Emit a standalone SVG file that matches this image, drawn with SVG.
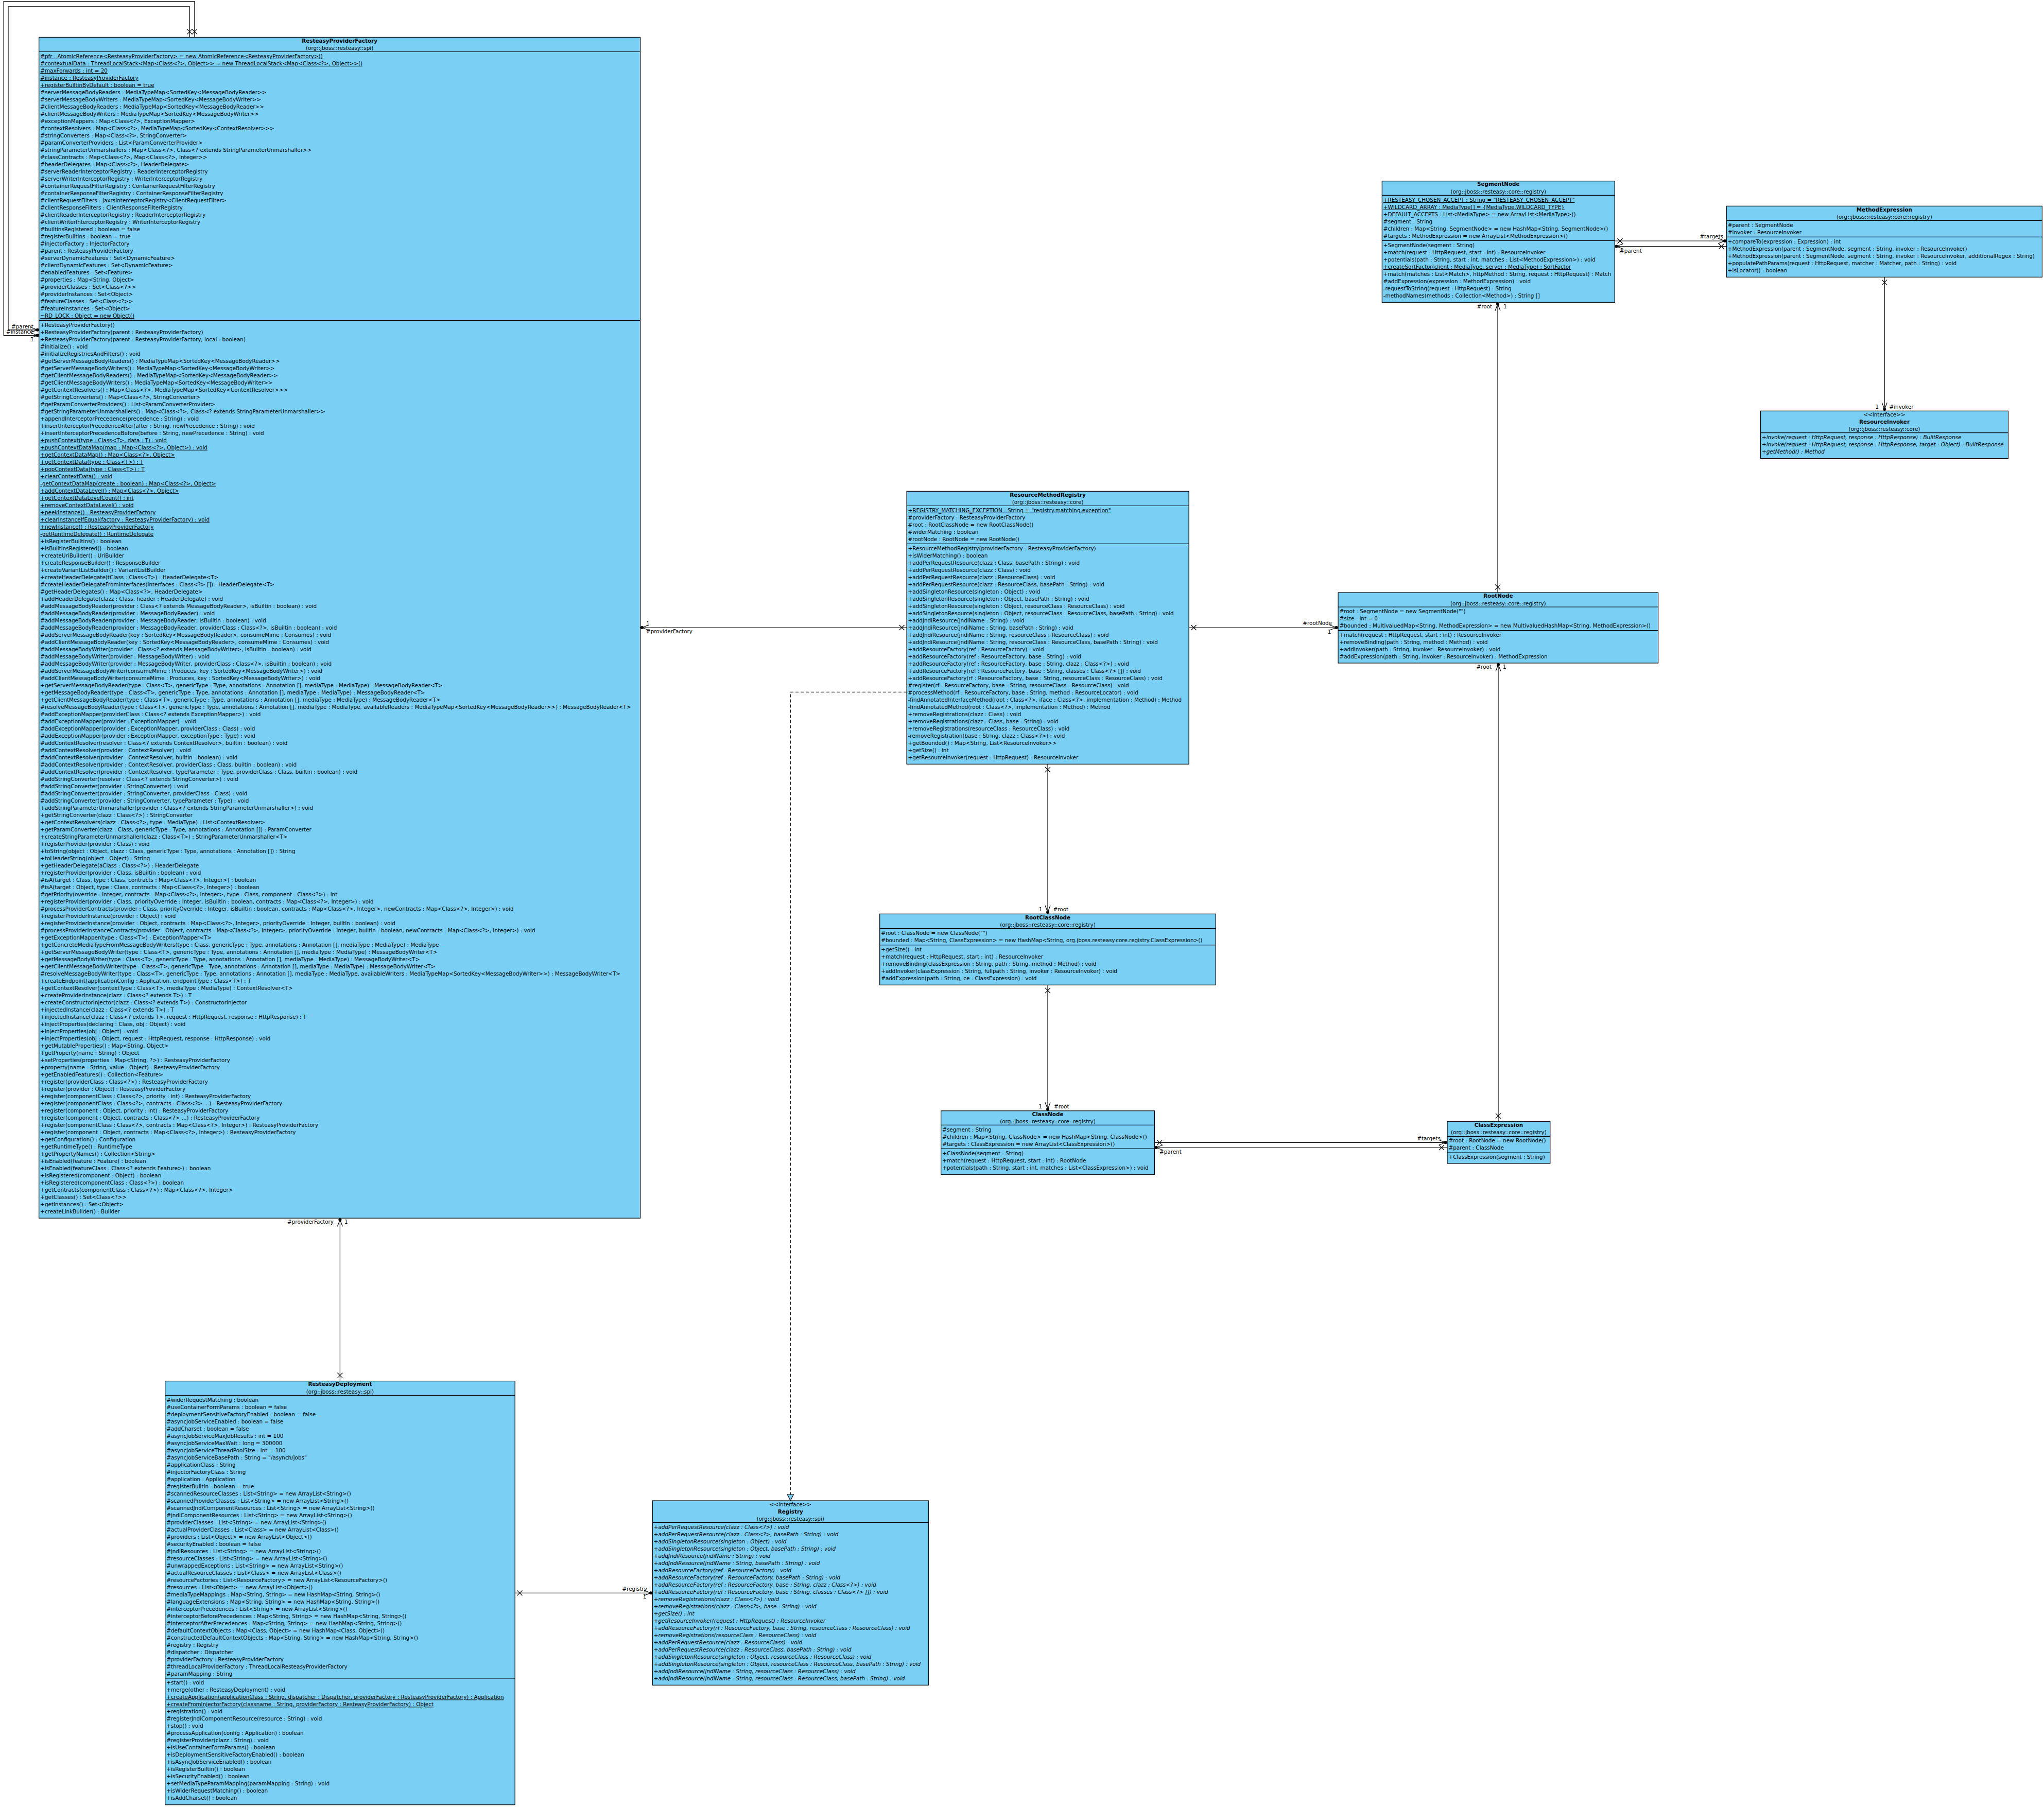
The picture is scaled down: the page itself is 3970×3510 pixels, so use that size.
<svg xmlns="http://www.w3.org/2000/svg" xmlns:xlink="http://www.w3.org/1999/xlink" width="3970" height="3510" viewBox="0 0 3970 3510">
<style>
.n{fill:#7ACFF5;stroke:#000;stroke-width:1.2}
.s{stroke:#000;stroke-width:1.2;fill:none}
text{font-family:"DejaVu Sans",sans-serif;font-size:10.4px;fill:#000}
.b{font-weight:bold}
.c{text-anchor:middle}
.e{text-anchor:end}
.u{text-decoration:underline}
.i{font-style:italic}
.l{stroke:#000;stroke-width:1.2;fill:none}
.d{stroke:#000;stroke-width:1.2;fill:none;stroke-dasharray:6,4}
</style>
<defs>
<path id="xm" class="l" d="M-5,-5 L5,5 M-5,5 L5,-5"/>
<g id="au"><path class="l" d="M-5,13 L0,0 L5,13"/><circle r="3" fill="#000"/></g>
<g id="ad"><path class="l" d="M-5,-13 L0,0 L5,-13"/><circle r="3" fill="#000"/></g>
<g id="ar"><path class="l" d="M-13,-5 L0,0 L-13,5"/><circle r="3" fill="#000"/></g>
<g id="al"><path class="l" d="M13,-5 L0,0 L13,5"/><circle r="3" fill="#000"/></g>
</defs>
<rect width="3970" height="3510" fill="#fff"/>

<g id="connectors">
<polyline class="l" points="368.3,72.4 368.3,12.8 16,12.8 16,640.8 75.7,640.8"/>
<polyline class="l" points="377.9,72.4 377.9,2.6 7.2,2.6 7.2,651.5 75.7,651.5"/>
<use href="#xm" x="368.3" y="61.7"/>
<use href="#xm" x="377.9" y="61.7"/>
<use href="#ar" x="72.7" y="640.8"/>
<use href="#ar" x="72.7" y="651.5"/>
<text x="22" y="637.9">#parent</text>
<text x="12" y="648.1">#instance</text>
<text x="59" y="663.4">1</text>

<line class="l" x1="1243.6" y1="1219" x2="1761.1" y2="1219"/>
<use href="#al" x="1247" y="1219"/>
<use href="#xm" x="1751.6" y="1219"/>
<text x="1255" y="1215.3">1</text>
<text x="1255" y="1229.7">#providerFactory</text>

<line class="l" x1="2309.1" y1="1219" x2="2599" y2="1219"/>
<use href="#xm" x="2318.6" y="1219"/>
<use href="#ar" x="2595.5" y="1219"/>
<text class="e" x="2587" y="1214.4">#rootNode</text>
<text class="c" x="2582" y="1231.4">1</text>

<line class="l" x1="2909" y1="1151" x2="2909" y2="587.3"/>
<use href="#xm" x="2909" y="1140.3"/>
<use href="#au" x="2909" y="590.5"/>
<text class="e" x="2898" y="599">#root</text>
<text x="2920" y="599">1</text>

<line class="l" x1="3136.3" y1="468" x2="3353.3" y2="468"/>
<use href="#xm" x="3146.5" y="468"/>
<use href="#ar" x="3350" y="468"/>
<text class="e" x="3347" y="462.5">#targets</text>

<line class="l" x1="3353.3" y1="478.5" x2="3136.3" y2="478.5"/>
<use href="#xm" x="3343.5" y="478.5"/>
<use href="#al" x="3139.5" y="478.5"/>
<text x="3146" y="490.5">#parent</text>

<line class="l" x1="3660.2" y1="538.3" x2="3660.2" y2="798.3"/>
<use href="#xm" x="3660.2" y="548.3"/>
<use href="#ad" x="3660.2" y="795"/>
<text class="e" x="3649" y="793.7">1</text>
<text x="3669.5" y="793.7">#invoker</text>

<line class="l" x1="2035" y1="1484.3" x2="2035" y2="1775.3"/>
<use href="#xm" x="2035" y="1495"/>
<use href="#ad" x="2035" y="1772"/>
<text class="c" x="2021" y="1770.4">1</text>
<text x="2045.6" y="1770.4">#root</text>

<line class="l" x1="2035" y1="1913.3" x2="2035" y2="2157.7"/>
<use href="#xm" x="2035" y="1924"/>
<use href="#ad" x="2035" y="2154.5"/>
<text class="c" x="2020.5" y="2152.7">1</text>
<text x="2047" y="2152.7">#root</text>

<line class="l" x1="2242.4" y1="2219.3" x2="2811" y2="2219.3"/>
<use href="#xm" x="2252.4" y="2219.3"/>
<use href="#ar" x="2807.5" y="2219.3"/>
<text class="e" x="2798" y="2214.7">#targets</text>

<line class="l" x1="2811" y1="2229" x2="2242.4" y2="2229"/>
<use href="#xm" x="2800" y="2229"/>
<use href="#al" x="2245.5" y="2229"/>
<text x="2252" y="2241.4">#parent</text>

<line class="l" x1="2910" y1="2178.3" x2="2910" y2="1288"/>
<use href="#xm" x="2910" y="2167.6"/>
<use href="#au" x="2910" y="1291"/>
<text class="e" x="2897" y="1299.4">#root</text>
<text x="2919" y="1299.4">1</text>

<line class="l" x1="660.4" y1="2682.6" x2="660.4" y2="2366.2"/>
<use href="#xm" x="660.4" y="2671.7"/>
<use href="#au" x="660.4" y="2369.3"/>
<text class="e" x="648" y="2377">#providerFactory</text>
<text x="669" y="2377">1</text>

<line class="l" x1="1000.2" y1="3094.3" x2="1267.3" y2="3094.3"/>
<use href="#xm" x="1009.4" y="3094.3"/>
<use href="#ar" x="1264" y="3094.3"/>
<text class="e" x="1257" y="3090.4">#registry</text>
<text class="c" x="1252" y="3105.4">1</text>

<polyline class="d" points="1761.1,1344.3 1535.3,1344.3 1535.3,2903"/>
<polygon points="1529.3,2903 1541.3,2903 1535.3,2915" fill="#7ACFF5" stroke="#000" stroke-width="1.2"/>
</g>

<g id="ResteasyProviderFactory">
<rect class="n" x="75.7" y="72.4" width="1167.9" height="2293.8"/>
<line class="s" x1="75.7" y1="100.5" x2="1243.6" y2="100.5"/>
<line class="s" x1="75.7" y1="622.4" x2="1243.6" y2="622.4"/>
<text class="b c" x="659.6" y="82.8">ResteasyProviderFactory</text>
<text class="c" x="659.6" y="96.6">(org::jboss::resteasy::spi)</text>
<text class="u" x="78.2" y="112.9">#pfr : AtomicReference&lt;ResteasyProviderFactory&gt; = new AtomicReference&lt;ResteasyProviderFactory&gt;()</text>
<text class="u" x="78.2" y="126.9">#contextualData : ThreadLocalStack&lt;Map&lt;Class&lt;?&gt;, Object&gt;&gt; = new ThreadLocalStack&lt;Map&lt;Class&lt;?&gt;, Object&gt;&gt;()</text>
<text class="u" x="78.2" y="140.9">#maxForwards : int = 20</text>
<text class="u" x="78.2" y="154.9">#instance : ResteasyProviderFactory</text>
<text class="u" x="78.2" y="168.9">+registerBuiltinByDefault : boolean = true</text>
<text x="78.2" y="182.9">#serverMessageBodyReaders : MediaTypeMap&lt;SortedKey&lt;MessageBodyReader&gt;&gt;</text>
<text x="78.2" y="196.9">#serverMessageBodyWriters : MediaTypeMap&lt;SortedKey&lt;MessageBodyWriter&gt;&gt;</text>
<text x="78.2" y="210.9">#clientMessageBodyReaders : MediaTypeMap&lt;SortedKey&lt;MessageBodyReader&gt;&gt;</text>
<text x="78.2" y="224.9">#clientMessageBodyWriters : MediaTypeMap&lt;SortedKey&lt;MessageBodyWriter&gt;&gt;</text>
<text x="78.2" y="238.9">#exceptionMappers : Map&lt;Class&lt;?&gt;, ExceptionMapper&gt;</text>
<text x="78.2" y="252.9">#contextResolvers : Map&lt;Class&lt;?&gt;, MediaTypeMap&lt;SortedKey&lt;ContextResolver&gt;&gt;&gt;</text>
<text x="78.2" y="266.9">#stringConverters : Map&lt;Class&lt;?&gt;, StringConverter&gt;</text>
<text x="78.2" y="280.9">#paramConverterProviders : List&lt;ParamConverterProvider&gt;</text>
<text x="78.2" y="294.9">#stringParameterUnmarshallers : Map&lt;Class&lt;?&gt;, Class&lt;? extends StringParameterUnmarshaller&gt;&gt;</text>
<text x="78.2" y="308.9">#classContracts : Map&lt;Class&lt;?&gt;, Map&lt;Class&lt;?&gt;, Integer&gt;&gt;</text>
<text x="78.2" y="322.9">#headerDelegates : Map&lt;Class&lt;?&gt;, HeaderDelegate&gt;</text>
<text x="78.2" y="336.9">#serverReaderInterceptorRegistry : ReaderInterceptorRegistry</text>
<text x="78.2" y="350.9">#serverWriterInterceptorRegistry : WriterInterceptorRegistry</text>
<text x="78.2" y="364.9">#containerRequestFilterRegistry : ContainerRequestFilterRegistry</text>
<text x="78.2" y="378.9">#containerResponseFilterRegistry : ContainerResponseFilterRegistry</text>
<text x="78.2" y="392.9">#clientRequestFilters : JaxrsInterceptorRegistry&lt;ClientRequestFilter&gt;</text>
<text x="78.2" y="406.9">#clientResponseFilters : ClientResponseFilterRegistry</text>
<text x="78.2" y="420.9">#clientReaderInterceptorRegistry : ReaderInterceptorRegistry</text>
<text x="78.2" y="434.9">#clientWriterInterceptorRegistry : WriterInterceptorRegistry</text>
<text x="78.2" y="448.9">#builtinsRegistered : boolean = false</text>
<text x="78.2" y="462.9">#registerBuiltins : boolean = true</text>
<text x="78.2" y="476.9">#injectorFactory : InjectorFactory</text>
<text x="78.2" y="490.9">#parent : ResteasyProviderFactory</text>
<text x="78.2" y="504.9">#serverDynamicFeatures : Set&lt;DynamicFeature&gt;</text>
<text x="78.2" y="518.9">#clientDynamicFeatures : Set&lt;DynamicFeature&gt;</text>
<text x="78.2" y="532.9">#enabledFeatures : Set&lt;Feature&gt;</text>
<text x="78.2" y="546.9">#properties : Map&lt;String, Object&gt;</text>
<text x="78.2" y="560.9">#providerClasses : Set&lt;Class&lt;?&gt;&gt;</text>
<text x="78.2" y="574.9">#providerInstances : Set&lt;Object&gt;</text>
<text x="78.2" y="588.9">#featureClasses : Set&lt;Class&lt;?&gt;&gt;</text>
<text x="78.2" y="602.9">#featureInstances : Set&lt;Object&gt;</text>
<text class="u" x="78.2" y="616.9">~RD_LOCK : Object = new Object()</text>
<text x="78.2" y="634.8">+ResteasyProviderFactory()</text>
<text x="78.2" y="648.8">+ResteasyProviderFactory(parent : ResteasyProviderFactory)</text>
<text x="78.2" y="662.8">+ResteasyProviderFactory(parent : ResteasyProviderFactory, local : boolean)</text>
<text x="78.2" y="676.8">#initialize() : void</text>
<text x="78.2" y="690.8">#initializeRegistriesAndFilters() : void</text>
<text x="78.2" y="704.8">#getServerMessageBodyReaders() : MediaTypeMap&lt;SortedKey&lt;MessageBodyReader&gt;&gt;</text>
<text x="78.2" y="718.8">#getServerMessageBodyWriters() : MediaTypeMap&lt;SortedKey&lt;MessageBodyWriter&gt;&gt;</text>
<text x="78.2" y="732.8">#getClientMessageBodyReaders() : MediaTypeMap&lt;SortedKey&lt;MessageBodyReader&gt;&gt;</text>
<text x="78.2" y="746.8">#getClientMessageBodyWriters() : MediaTypeMap&lt;SortedKey&lt;MessageBodyWriter&gt;&gt;</text>
<text x="78.2" y="760.8">#getContextResolvers() : Map&lt;Class&lt;?&gt;, MediaTypeMap&lt;SortedKey&lt;ContextResolver&gt;&gt;&gt;</text>
<text x="78.2" y="774.8">#getStringConverters() : Map&lt;Class&lt;?&gt;, StringConverter&gt;</text>
<text x="78.2" y="788.8">#getParamConverterProviders() : List&lt;ParamConverterProvider&gt;</text>
<text x="78.2" y="802.8">#getStringParameterUnmarshallers() : Map&lt;Class&lt;?&gt;, Class&lt;? extends StringParameterUnmarshaller&gt;&gt;</text>
<text x="78.2" y="816.8">+appendInterceptorPrecedence(precedence : String) : void</text>
<text x="78.2" y="830.8">+insertInterceptorPrecedenceAfter(after : String, newPrecedence : String) : void</text>
<text x="78.2" y="844.8">+insertInterceptorPrecedenceBefore(before : String, newPrecedence : String) : void</text>
<text class="u" x="78.2" y="858.8">+pushContext(type : Class&lt;T&gt;, data : T) : void</text>
<text class="u" x="78.2" y="872.8">+pushContextDataMap(map : Map&lt;Class&lt;?&gt;, Object&gt;) : void</text>
<text class="u" x="78.2" y="886.8">+getContextDataMap() : Map&lt;Class&lt;?&gt;, Object&gt;</text>
<text class="u" x="78.2" y="900.8">+getContextData(type : Class&lt;T&gt;) : T</text>
<text class="u" x="78.2" y="914.8">+popContextData(type : Class&lt;T&gt;) : T</text>
<text class="u" x="78.2" y="928.8">+clearContextData() : void</text>
<text class="u" x="78.2" y="942.8">-getContextDataMap(create : boolean) : Map&lt;Class&lt;?&gt;, Object&gt;</text>
<text class="u" x="78.2" y="956.8">+addContextDataLevel() : Map&lt;Class&lt;?&gt;, Object&gt;</text>
<text class="u" x="78.2" y="970.8">+getContextDataLevelCount() : int</text>
<text class="u" x="78.2" y="984.8">+removeContextDataLevel() : void</text>
<text class="u" x="78.2" y="998.8">+peekInstance() : ResteasyProviderFactory</text>
<text class="u" x="78.2" y="1012.8">+clearInstanceIfEqual(factory : ResteasyProviderFactory) : void</text>
<text class="u" x="78.2" y="1026.8">+newInstance() : ResteasyProviderFactory</text>
<text class="u" x="78.2" y="1040.8">-getRuntimeDelegate() : RuntimeDelegate</text>
<text x="78.2" y="1054.8">+isRegisterBuiltins() : boolean</text>
<text x="78.2" y="1068.8">+isBuiltinsRegistered() : boolean</text>
<text x="78.2" y="1082.8">+createUriBuilder() : UriBuilder</text>
<text x="78.2" y="1096.8">+createResponseBuilder() : ResponseBuilder</text>
<text x="78.2" y="1110.8">+createVariantListBuilder() : VariantListBuilder</text>
<text x="78.2" y="1124.8">+createHeaderDelegate(tClass : Class&lt;T&gt;) : HeaderDelegate&lt;T&gt;</text>
<text x="78.2" y="1138.8">#createHeaderDelegateFromInterfaces(interfaces : Class&lt;?&gt; []) : HeaderDelegate&lt;T&gt;</text>
<text x="78.2" y="1152.8">#getHeaderDelegates() : Map&lt;Class&lt;?&gt;, HeaderDelegate&gt;</text>
<text x="78.2" y="1166.8">+addHeaderDelegate(clazz : Class, header : HeaderDelegate) : void</text>
<text x="78.2" y="1180.8">#addMessageBodyReader(provider : Class&lt;? extends MessageBodyReader&gt;, isBuiltin : boolean) : void</text>
<text x="78.2" y="1194.8">#addMessageBodyReader(provider : MessageBodyReader) : void</text>
<text x="78.2" y="1208.8">#addMessageBodyReader(provider : MessageBodyReader, isBuiltin : boolean) : void</text>
<text x="78.2" y="1222.8">#addMessageBodyReader(provider : MessageBodyReader, providerClass : Class&lt;?&gt;, isBuiltin : boolean) : void</text>
<text x="78.2" y="1236.8">#addServerMessageBodyReader(key : SortedKey&lt;MessageBodyReader&gt;, consumeMime : Consumes) : void</text>
<text x="78.2" y="1250.8">#addClientMessageBodyReader(key : SortedKey&lt;MessageBodyReader&gt;, consumeMime : Consumes) : void</text>
<text x="78.2" y="1264.8">#addMessageBodyWriter(provider : Class&lt;? extends MessageBodyWriter&gt;, isBuiltin : boolean) : void</text>
<text x="78.2" y="1278.8">#addMessageBodyWriter(provider : MessageBodyWriter) : void</text>
<text x="78.2" y="1292.8">#addMessageBodyWriter(provider : MessageBodyWriter, providerClass : Class&lt;?&gt;, isBuiltin : boolean) : void</text>
<text x="78.2" y="1306.8">#addServerMessageBodyWriter(consumeMime : Produces, key : SortedKey&lt;MessageBodyWriter&gt;) : void</text>
<text x="78.2" y="1320.8">#addClientMessageBodyWriter(consumeMime : Produces, key : SortedKey&lt;MessageBodyWriter&gt;) : void</text>
<text x="78.2" y="1334.8">+getServerMessageBodyReader(type : Class&lt;T&gt;, genericType : Type, annotations : Annotation [], mediaType : MediaType) : MessageBodyReader&lt;T&gt;</text>
<text x="78.2" y="1348.8">+getMessageBodyReader(type : Class&lt;T&gt;, genericType : Type, annotations : Annotation [], mediaType : MediaType) : MessageBodyReader&lt;T&gt;</text>
<text x="78.2" y="1362.8">+getClientMessageBodyReader(type : Class&lt;T&gt;, genericType : Type, annotations : Annotation [], mediaType : MediaType) : MessageBodyReader&lt;T&gt;</text>
<text x="78.2" y="1376.8">#resolveMessageBodyReader(type : Class&lt;T&gt;, genericType : Type, annotations : Annotation [], mediaType : MediaType, availableReaders : MediaTypeMap&lt;SortedKey&lt;MessageBodyReader&gt;&gt;) : MessageBodyReader&lt;T&gt;</text>
<text x="78.2" y="1390.8">#addExceptionMapper(providerClass : Class&lt;? extends ExceptionMapper&gt;) : void</text>
<text x="78.2" y="1404.8">#addExceptionMapper(provider : ExceptionMapper) : void</text>
<text x="78.2" y="1418.8">#addExceptionMapper(provider : ExceptionMapper, providerClass : Class) : void</text>
<text x="78.2" y="1432.8">#addExceptionMapper(provider : ExceptionMapper, exceptionType : Type) : void</text>
<text x="78.2" y="1446.8">#addContextResolver(resolver : Class&lt;? extends ContextResolver&gt;, builtin : boolean) : void</text>
<text x="78.2" y="1460.8">#addContextResolver(provider : ContextResolver) : void</text>
<text x="78.2" y="1474.8">#addContextResolver(provider : ContextResolver, builtin : boolean) : void</text>
<text x="78.2" y="1488.8">#addContextResolver(provider : ContextResolver, providerClass : Class, builtin : boolean) : void</text>
<text x="78.2" y="1502.8">#addContextResolver(provider : ContextResolver, typeParameter : Type, providerClass : Class, builtin : boolean) : void</text>
<text x="78.2" y="1516.8">#addStringConverter(resolver : Class&lt;? extends StringConverter&gt;) : void</text>
<text x="78.2" y="1530.8">#addStringConverter(provider : StringConverter) : void</text>
<text x="78.2" y="1544.8">#addStringConverter(provider : StringConverter, providerClass : Class) : void</text>
<text x="78.2" y="1558.8">#addStringConverter(provider : StringConverter, typeParameter : Type) : void</text>
<text x="78.2" y="1572.8">+addStringParameterUnmarshaller(provider : Class&lt;? extends StringParameterUnmarshaller&gt;) : void</text>
<text x="78.2" y="1586.8">+getStringConverter(clazz : Class&lt;?&gt;) : StringConverter</text>
<text x="78.2" y="1600.8">+getContextResolvers(clazz : Class&lt;?&gt;, type : MediaType) : List&lt;ContextResolver&gt;</text>
<text x="78.2" y="1614.8">+getParamConverter(clazz : Class, genericType : Type, annotations : Annotation []) : ParamConverter</text>
<text x="78.2" y="1628.8">+createStringParameterUnmarshaller(clazz : Class&lt;T&gt;) : StringParameterUnmarshaller&lt;T&gt;</text>
<text x="78.2" y="1642.8">+registerProvider(provider : Class) : void</text>
<text x="78.2" y="1656.8">+toString(object : Object, clazz : Class, genericType : Type, annotations : Annotation []) : String</text>
<text x="78.2" y="1670.8">+toHeaderString(object : Object) : String</text>
<text x="78.2" y="1684.8">+getHeaderDelegate(aClass : Class&lt;?&gt;) : HeaderDelegate</text>
<text x="78.2" y="1698.8">+registerProvider(provider : Class, isBuiltin : boolean) : void</text>
<text x="78.2" y="1712.8">#isA(target : Class, type : Class, contracts : Map&lt;Class&lt;?&gt;, Integer&gt;) : boolean</text>
<text x="78.2" y="1726.8">#isA(target : Object, type : Class, contracts : Map&lt;Class&lt;?&gt;, Integer&gt;) : boolean</text>
<text x="78.2" y="1740.8">#getPriority(override : Integer, contracts : Map&lt;Class&lt;?&gt;, Integer&gt;, type : Class, component : Class&lt;?&gt;) : int</text>
<text x="78.2" y="1754.8">+registerProvider(provider : Class, priorityOverride : Integer, isBuiltin : boolean, contracts : Map&lt;Class&lt;?&gt;, Integer&gt;) : void</text>
<text x="78.2" y="1768.8">#processProviderContracts(provider : Class, priorityOverride : Integer, isBuiltin : boolean, contracts : Map&lt;Class&lt;?&gt;, Integer&gt;, newContracts : Map&lt;Class&lt;?&gt;, Integer&gt;) : void</text>
<text x="78.2" y="1782.8">+registerProviderInstance(provider : Object) : void</text>
<text x="78.2" y="1796.8">+registerProviderInstance(provider : Object, contracts : Map&lt;Class&lt;?&gt;, Integer&gt;, priorityOverride : Integer, builtIn : boolean) : void</text>
<text x="78.2" y="1810.8">#processProviderInstanceContracts(provider : Object, contracts : Map&lt;Class&lt;?&gt;, Integer&gt;, priorityOverride : Integer, builtIn : boolean, newContracts : Map&lt;Class&lt;?&gt;, Integer&gt;) : void</text>
<text x="78.2" y="1824.8">+getExceptionMapper(type : Class&lt;T&gt;) : ExceptionMapper&lt;T&gt;</text>
<text x="78.2" y="1838.8">+getConcreteMediaTypeFromMessageBodyWriters(type : Class, genericType : Type, annotations : Annotation [], mediaType : MediaType) : MediaType</text>
<text x="78.2" y="1852.8">+getServerMessageBodyWriter(type : Class&lt;T&gt;, genericType : Type, annotations : Annotation [], mediaType : MediaType) : MessageBodyWriter&lt;T&gt;</text>
<text x="78.2" y="1866.8">+getMessageBodyWriter(type : Class&lt;T&gt;, genericType : Type, annotations : Annotation [], mediaType : MediaType) : MessageBodyWriter&lt;T&gt;</text>
<text x="78.2" y="1880.8">+getClientMessageBodyWriter(type : Class&lt;T&gt;, genericType : Type, annotations : Annotation [], mediaType : MediaType) : MessageBodyWriter&lt;T&gt;</text>
<text x="78.2" y="1894.8">#resolveMessageBodyWriter(type : Class&lt;T&gt;, genericType : Type, annotations : Annotation [], mediaType : MediaType, availableWriters : MediaTypeMap&lt;SortedKey&lt;MessageBodyWriter&gt;&gt;) : MessageBodyWriter&lt;T&gt;</text>
<text x="78.2" y="1908.8">+createEndpoint(applicationConfig : Application, endpointType : Class&lt;T&gt;) : T</text>
<text x="78.2" y="1922.8">+getContextResolver(contextType : Class&lt;T&gt;, mediaType : MediaType) : ContextResolver&lt;T&gt;</text>
<text x="78.2" y="1936.8">+createProviderInstance(clazz : Class&lt;? extends T&gt;) : T</text>
<text x="78.2" y="1950.8">+createConstructorInjector(clazz : Class&lt;? extends T&gt;) : ConstructorInjector</text>
<text x="78.2" y="1964.8">+injectedInstance(clazz : Class&lt;? extends T&gt;) : T</text>
<text x="78.2" y="1978.8">+injectedInstance(clazz : Class&lt;? extends T&gt;, request : HttpRequest, response : HttpResponse) : T</text>
<text x="78.2" y="1992.8">+injectProperties(declaring : Class, obj : Object) : void</text>
<text x="78.2" y="2006.8">+injectProperties(obj : Object) : void</text>
<text x="78.2" y="2020.8">+injectProperties(obj : Object, request : HttpRequest, response : HttpResponse) : void</text>
<text x="78.2" y="2034.8">+getMutableProperties() : Map&lt;String, Object&gt;</text>
<text x="78.2" y="2048.8">+getProperty(name : String) : Object</text>
<text x="78.2" y="2062.8">+setProperties(properties : Map&lt;String, ?&gt;) : ResteasyProviderFactory</text>
<text x="78.2" y="2076.8">+property(name : String, value : Object) : ResteasyProviderFactory</text>
<text x="78.2" y="2090.8">+getEnabledFeatures() : Collection&lt;Feature&gt;</text>
<text x="78.2" y="2104.8">+register(providerClass : Class&lt;?&gt;) : ResteasyProviderFactory</text>
<text x="78.2" y="2118.8">+register(provider : Object) : ResteasyProviderFactory</text>
<text x="78.2" y="2132.8">+register(componentClass : Class&lt;?&gt;, priority : int) : ResteasyProviderFactory</text>
<text x="78.2" y="2146.8">+register(componentClass : Class&lt;?&gt;, contracts : Class&lt;?&gt; ...) : ResteasyProviderFactory</text>
<text x="78.2" y="2160.8">+register(component : Object, priority : int) : ResteasyProviderFactory</text>
<text x="78.2" y="2174.8">+register(component : Object, contracts : Class&lt;?&gt; ...) : ResteasyProviderFactory</text>
<text x="78.2" y="2188.8">+register(componentClass : Class&lt;?&gt;, contracts : Map&lt;Class&lt;?&gt;, Integer&gt;) : ResteasyProviderFactory</text>
<text x="78.2" y="2202.8">+register(component : Object, contracts : Map&lt;Class&lt;?&gt;, Integer&gt;) : ResteasyProviderFactory</text>
<text x="78.2" y="2216.8">+getConfiguration() : Configuration</text>
<text x="78.2" y="2230.8">+getRuntimeType() : RuntimeType</text>
<text x="78.2" y="2244.8">+getPropertyNames() : Collection&lt;String&gt;</text>
<text x="78.2" y="2258.8">+isEnabled(feature : Feature) : boolean</text>
<text x="78.2" y="2272.8">+isEnabled(featureClass : Class&lt;? extends Feature&gt;) : boolean</text>
<text x="78.2" y="2286.8">+isRegistered(component : Object) : boolean</text>
<text x="78.2" y="2300.8">+isRegistered(componentClass : Class&lt;?&gt;) : boolean</text>
<text x="78.2" y="2314.8">+getContracts(componentClass : Class&lt;?&gt;) : Map&lt;Class&lt;?&gt;, Integer&gt;</text>
<text x="78.2" y="2328.8">+getClasses() : Set&lt;Class&lt;?&gt;&gt;</text>
<text x="78.2" y="2342.8">+getInstances() : Set&lt;Object&gt;</text>
<text x="78.2" y="2356.8">+createLinkBuilder() : Builder</text>
</g>

<g id="SegmentNode">
<rect class="n" x="2684.3" y="351.7" width="452" height="235.6"/>
<line class="s" x1="2684.3" y1="379.3" x2="3136.3" y2="379.3"/>
<line class="s" x1="2684.3" y1="467.3" x2="3136.3" y2="467.3"/>
<text class="b c" x="2910.3" y="361.4">SegmentNode</text>
<text class="c" x="2910.3" y="376">(org::jboss::resteasy::core::registry)</text>
<text class="u" x="2686.8" y="392">+RESTEASY_CHOSEN_ACCEPT : String = "RESTEASY_CHOSEN_ACCEPT"</text>
<text class="u" x="2686.8" y="406">+WILDCARD_ARRAY : MediaType[] = {MediaType.WILDCARD_TYPE}</text>
<text class="u" x="2686.8" y="420">+DEFAULT_ACCEPTS : List&lt;MediaType&gt; = new ArrayList&lt;MediaType&gt;()</text>
<text x="2686.8" y="434">#segment : String</text>
<text x="2686.8" y="448">#children : Map&lt;String, SegmentNode&gt; = new HashMap&lt;String, SegmentNode&gt;()</text>
<text x="2686.8" y="462">#targets : MethodExpression = new ArrayList&lt;MethodExpression&gt;()</text>
<text x="2686.8" y="480">+SegmentNode(segment : String)</text>
<text x="2686.8" y="494">+match(request : HttpRequest, start : int) : ResourceInvoker</text>
<text x="2686.8" y="508">+potentials(path : String, start : int, matches : List&lt;MethodExpression&gt;) : void</text>
<text class="u" x="2686.8" y="522">+createSortFactor(client : MediaType, server : MediaType) : SortFactor</text>
<text x="2686.8" y="536">+match(matches : List&lt;Match&gt;, httpMethod : String, request : HttpRequest) : Match</text>
<text x="2686.8" y="550">#addExpression(expression : MethodExpression) : void</text>
<text x="2686.8" y="564">-requestToString(request : HttpRequest) : String</text>
<text x="2686.8" y="578">-methodNames(methods : Collection&lt;Method&gt;) : String []</text>
</g>

<g id="MethodExpression">
<rect class="n" x="3353.3" y="400.3" width="613.1" height="138"/>
<line class="s" x1="3353.3" y1="428.3" x2="3966.4" y2="428.3"/>
<line class="s" x1="3353.3" y1="460.3" x2="3966.4" y2="460.3"/>
<text class="b c" x="3659.9" y="410.7">MethodExpression</text>
<text class="c" x="3659.9" y="425">(org::jboss::resteasy::core::registry)</text>
<text x="3355.8" y="440.7">#parent : SegmentNode</text>
<text x="3355.8" y="454.7">#invoker : ResourceInvoker</text>
<text x="3355.8" y="472.7">+compareTo(expression : Expression) : int</text>
<text x="3355.8" y="486.7">+MethodExpression(parent : SegmentNode, segment : String, invoker : ResourceInvoker)</text>
<text x="3355.8" y="500.7">+MethodExpression(parent : SegmentNode, segment : String, invoker : ResourceInvoker, additionalRegex : String)</text>
<text x="3355.8" y="514.7">+populatePathParams(request : HttpRequest, matcher : Matcher, path : String) : void</text>
<text x="3355.8" y="528.7">+isLocator() : boolean</text>
</g>

<g id="ResourceInvoker">
<rect class="n" x="3419.5" y="798.3" width="481" height="92.3"/>
<line class="s" x1="3419.5" y1="840.7" x2="3900.5" y2="840.7"/>
<text class="c" x="3660" y="809">&lt;&lt;Interface&gt;&gt;</text>
<text class="b c" x="3660" y="822.7">ResourceInvoker</text>
<text class="c" x="3660" y="836.7">(org::jboss::resteasy::core)</text>
<text class="i" x="3422" y="853">+invoke(request : HttpRequest, response : HttpResponse) : BuiltResponse</text>
<text class="i" x="3422" y="867">+invoke(request : HttpRequest, response : HttpResponse, target : Object) : BuiltResponse</text>
<text class="i" x="3422" y="881">+getMethod() : Method</text>
</g>

<g id="ResourceMethodRegistry">
<rect class="n" x="1761.1" y="954.3" width="548" height="530"/>
<line class="s" x1="1761.1" y1="982.5" x2="2309.1" y2="982.5"/>
<line class="s" x1="1761.1" y1="1056.4" x2="2309.1" y2="1056.4"/>
<text class="b c" x="2035.1" y="965.1">ResourceMethodRegistry</text>
<text class="c" x="2035.1" y="979.1">(org::jboss::resteasy::core)</text>
<text class="u" x="1763.6" y="994.8">+REGISTRY_MATCHING_EXCEPTION : String = "registry.matching.exception"</text>
<text x="1763.6" y="1008.8">#providerFactory : ResteasyProviderFactory</text>
<text x="1763.6" y="1022.8">#root : RootClassNode = new RootClassNode()</text>
<text x="1763.6" y="1036.8">#widerMatching : boolean</text>
<text x="1763.6" y="1050.8">#rootNode : RootNode = new RootNode()</text>
<text x="1763.6" y="1069.1">+ResourceMethodRegistry(providerFactory : ResteasyProviderFactory)</text>
<text x="1763.6" y="1083.1">+isWiderMatching() : boolean</text>
<text x="1763.6" y="1097.1">+addPerRequestResource(clazz : Class, basePath : String) : void</text>
<text x="1763.6" y="1111.1">+addPerRequestResource(clazz : Class) : void</text>
<text x="1763.6" y="1125.1">+addPerRequestResource(clazz : ResourceClass) : void</text>
<text x="1763.6" y="1139.1">+addPerRequestResource(clazz : ResourceClass, basePath : String) : void</text>
<text x="1763.6" y="1153.1">+addSingletonResource(singleton : Object) : void</text>
<text x="1763.6" y="1167.1">+addSingletonResource(singleton : Object, basePath : String) : void</text>
<text x="1763.6" y="1181.1">+addSingletonResource(singleton : Object, resourceClass : ResourceClass) : void</text>
<text x="1763.6" y="1195.1">+addSingletonResource(singleton : Object, resourceClass : ResourceClass, basePath : String) : void</text>
<text x="1763.6" y="1209.1">+addJndiResource(jndiName : String) : void</text>
<text x="1763.6" y="1223.1">+addJndiResource(jndiName : String, basePath : String) : void</text>
<text x="1763.6" y="1237.1">+addJndiResource(jndiName : String, resourceClass : ResourceClass) : void</text>
<text x="1763.6" y="1251.1">+addJndiResource(jndiName : String, resourceClass : ResourceClass, basePath : String) : void</text>
<text x="1763.6" y="1265.1">+addResourceFactory(ref : ResourceFactory) : void</text>
<text x="1763.6" y="1279.1">+addResourceFactory(ref : ResourceFactory, base : String) : void</text>
<text x="1763.6" y="1293.1">+addResourceFactory(ref : ResourceFactory, base : String, clazz : Class&lt;?&gt;) : void</text>
<text x="1763.6" y="1307.1">+addResourceFactory(ref : ResourceFactory, base : String, classes : Class&lt;?&gt; []) : void</text>
<text x="1763.6" y="1321.1">+addResourceFactory(rf : ResourceFactory, base : String, resourceClass : ResourceClass) : void</text>
<text x="1763.6" y="1335.1">#register(rf : ResourceFactory, base : String, resourceClass : ResourceClass) : void</text>
<text x="1763.6" y="1349.1">#processMethod(rf : ResourceFactory, base : String, method : ResourceLocator) : void</text>
<text x="1763.6" y="1363.1">-findAnnotatedInterfaceMethod(root : Class&lt;?&gt;, iface : Class&lt;?&gt;, implementation : Method) : Method</text>
<text x="1763.6" y="1377.1">-findAnnotatedMethod(root : Class&lt;?&gt;, implementation : Method) : Method</text>
<text x="1763.6" y="1391.1">+removeRegistrations(clazz : Class) : void</text>
<text x="1763.6" y="1405.1">+removeRegistrations(clazz : Class, base : String) : void</text>
<text x="1763.6" y="1419.1">+removeRegistrations(resourceClass : ResourceClass) : void</text>
<text x="1763.6" y="1433.1">-removeRegistration(base : String, clazz : Class&lt;?&gt;) : void</text>
<text x="1763.6" y="1447.1">+getBounded() : Map&lt;String, List&lt;ResourceInvoker&gt;&gt;</text>
<text x="1763.6" y="1461.1">+getSize() : int</text>
<text x="1763.6" y="1475.1">+getResourceInvoker(request : HttpRequest) : ResourceInvoker</text>
</g>

<g id="RootNode">
<rect class="n" x="2599" y="1151" width="621.6" height="137"/>
<line class="s" x1="2599" y1="1179" x2="3220.6" y2="1179"/>
<line class="s" x1="2599" y1="1224.7" x2="3220.6" y2="1224.7"/>
<text class="b c" x="2909.8" y="1161.2">RootNode</text>
<text class="c" x="2909.8" y="1175.7">(org::jboss::resteasy::core::registry)</text>
<text x="2601.5" y="1191.4">#root : SegmentNode = new SegmentNode("")</text>
<text x="2601.5" y="1205.4">#size : int = 0</text>
<text x="2601.5" y="1219.4">#bounded : MultivaluedMap&lt;String, MethodExpression&gt; = new MultivaluedHashMap&lt;String, MethodExpression&gt;()</text>
<text x="2601.5" y="1237">+match(request : HttpRequest, start : int) : ResourceInvoker</text>
<text x="2601.5" y="1251">+removeBinding(path : String, method : Method) : void</text>
<text x="2601.5" y="1265">+addInvoker(path : String, invoker : ResourceInvoker) : void</text>
<text x="2601.5" y="1279">#addExpression(path : String, invoker : ResourceInvoker) : MethodExpression</text>
</g>

<g id="RootClassNode">
<rect class="n" x="1708.7" y="1775.3" width="652.6" height="138"/>
<line class="s" x1="1708.7" y1="1803.7" x2="2361.3" y2="1803.7"/>
<line class="s" x1="1708.7" y1="1835.7" x2="2361.3" y2="1835.7"/>
<text class="b c" x="2035" y="1786.4">RootClassNode</text>
<text class="c" x="2035" y="1800.4">(org::jboss::resteasy::core::registry)</text>
<text x="1711.2" y="1816">#root : ClassNode = new ClassNode("")</text>
<text x="1711.2" y="1830">#bounded : Map&lt;String, ClassExpression&gt; = new HashMap&lt;String, org.jboss.resteasy.core.registry.ClassExpression&gt;()</text>
<text x="1711.2" y="1848">+getSize() : int</text>
<text x="1711.2" y="1862">+match(request : HttpRequest, start : int) : ResourceInvoker</text>
<text x="1711.2" y="1876">+removeBinding(classExpression : String, path : String, method : Method) : void</text>
<text x="1711.2" y="1890">+addInvoker(classExpression : String, fullpath : String, invoker : ResourceInvoker) : void</text>
<text x="1711.2" y="1904">#addExpression(path : String, ce : ClassExpression) : void</text>
</g>

<g id="ClassNode">
<rect class="n" x="1827.7" y="2157.7" width="414.7" height="123.6"/>
<line class="s" x1="1827.7" y1="2185.3" x2="2242.4" y2="2185.3"/>
<line class="s" x1="1827.7" y1="2231" x2="2242.4" y2="2231"/>
<text class="b c" x="2035" y="2168">ClassNode</text>
<text class="c" x="2035" y="2182.4">(org::jboss::resteasy::core::registry)</text>
<text x="1830.2" y="2197.7">#segment : String</text>
<text x="1830.2" y="2211.7">#children : Map&lt;String, ClassNode&gt; = new HashMap&lt;String, ClassNode&gt;()</text>
<text x="1830.2" y="2225.7">#targets : ClassExpression = new ArrayList&lt;ClassExpression&gt;()</text>
<text x="1830.2" y="2243.7">+ClassNode(segment : String)</text>
<text x="1830.2" y="2257.7">+match(request : HttpRequest, start : int) : RootNode</text>
<text x="1830.2" y="2271.7">+potentials(path : String, start : int, matches : List&lt;ClassExpression&gt;) : void</text>
</g>

<g id="ClassExpression">
<rect class="n" x="2811" y="2178.3" width="199.8" height="81.7"/>
<line class="s" x1="2811" y1="2207.3" x2="3010.8" y2="2207.3"/>
<line class="s" x1="2811" y1="2239" x2="3010.8" y2="2239"/>
<text class="b c" x="2910.9" y="2189">ClassExpression</text>
<text class="c" x="2910.9" y="2203.4">(org::jboss::resteasy::core::registry)</text>
<text x="2813.5" y="2219">#root : RootNode = new RootNode()</text>
<text x="2813.5" y="2233">#parent : ClassNode</text>
<text x="2813.5" y="2251.4">+ClassExpression(segment : String)</text>
</g>

<g id="ResteasyDeployment">
<rect class="n" x="320.7" y="2682.6" width="679.5" height="823.1"/>
<line class="s" x1="320.7" y1="2710.3" x2="1000.2" y2="2710.3"/>
<line class="s" x1="320.7" y1="3260" x2="1000.2" y2="3260"/>
<text class="b c" x="660.4" y="2692.2">ResteasyDeployment</text>
<text class="c" x="660.4" y="2706.7">(org::jboss::resteasy::spi)</text>
<text x="323.2" y="2722.7">#widerRequestMatching : boolean</text>
<text x="323.2" y="2736.7">#useContainerFormParams : boolean = false</text>
<text x="323.2" y="2750.7">#deploymentSensitiveFactoryEnabled : boolean = false</text>
<text x="323.2" y="2764.7">#asyncJobServiceEnabled : boolean = false</text>
<text x="323.2" y="2778.7">#addCharset : boolean = false</text>
<text x="323.2" y="2792.7">#asyncJobServiceMaxJobResults : int = 100</text>
<text x="323.2" y="2806.7">#asyncJobServiceMaxWait : long = 300000</text>
<text x="323.2" y="2820.7">#asyncJobServiceThreadPoolSize : int = 100</text>
<text x="323.2" y="2834.7">#asyncJobServiceBasePath : String = "/asynch/jobs"</text>
<text x="323.2" y="2848.7">#applicationClass : String</text>
<text x="323.2" y="2862.7">#injectorFactoryClass : String</text>
<text x="323.2" y="2876.7">#application : Application</text>
<text x="323.2" y="2890.7">#registerBuiltin : boolean = true</text>
<text x="323.2" y="2904.7">#scannedResourceClasses : List&lt;String&gt; = new ArrayList&lt;String&gt;()</text>
<text x="323.2" y="2918.7">#scannedProviderClasses : List&lt;String&gt; = new ArrayList&lt;String&gt;()</text>
<text x="323.2" y="2932.7">#scannedJndiComponentResources : List&lt;String&gt; = new ArrayList&lt;String&gt;()</text>
<text x="323.2" y="2946.7">#jndiComponentResources : List&lt;String&gt; = new ArrayList&lt;String&gt;()</text>
<text x="323.2" y="2960.7">#providerClasses : List&lt;String&gt; = new ArrayList&lt;String&gt;()</text>
<text x="323.2" y="2974.7">#actualProviderClasses : List&lt;Class&gt; = new ArrayList&lt;Class&gt;()</text>
<text x="323.2" y="2988.7">#providers : List&lt;Object&gt; = new ArrayList&lt;Object&gt;()</text>
<text x="323.2" y="3002.7">#securityEnabled : boolean = false</text>
<text x="323.2" y="3016.7">#jndiResources : List&lt;String&gt; = new ArrayList&lt;String&gt;()</text>
<text x="323.2" y="3030.7">#resourceClasses : List&lt;String&gt; = new ArrayList&lt;String&gt;()</text>
<text x="323.2" y="3044.7">#unwrappedExceptions : List&lt;String&gt; = new ArrayList&lt;String&gt;()</text>
<text x="323.2" y="3058.7">#actualResourceClasses : List&lt;Class&gt; = new ArrayList&lt;Class&gt;()</text>
<text x="323.2" y="3072.7">#resourceFactories : List&lt;ResourceFactory&gt; = new ArrayList&lt;ResourceFactory&gt;()</text>
<text x="323.2" y="3086.7">#resources : List&lt;Object&gt; = new ArrayList&lt;Object&gt;()</text>
<text x="323.2" y="3100.7">#mediaTypeMappings : Map&lt;String, String&gt; = new HashMap&lt;String, String&gt;()</text>
<text x="323.2" y="3114.7">#languageExtensions : Map&lt;String, String&gt; = new HashMap&lt;String, String&gt;()</text>
<text x="323.2" y="3128.7">#interceptorPrecedences : List&lt;String&gt; = new ArrayList&lt;String&gt;()</text>
<text x="323.2" y="3142.7">#interceptorBeforePrecedences : Map&lt;String, String&gt; = new HashMap&lt;String, String&gt;()</text>
<text x="323.2" y="3156.7">#interceptorAfterPrecedences : Map&lt;String, String&gt; = new HashMap&lt;String, String&gt;()</text>
<text x="323.2" y="3170.7">#defaultContextObjects : Map&lt;Class, Object&gt; = new HashMap&lt;Class, Object&gt;()</text>
<text x="323.2" y="3184.7">#constructedDefaultContextObjects : Map&lt;String, String&gt; = new HashMap&lt;String, String&gt;()</text>
<text x="323.2" y="3198.7">#registry : Registry</text>
<text x="323.2" y="3212.7">#dispatcher : Dispatcher</text>
<text x="323.2" y="3226.7">#providerFactory : ResteasyProviderFactory</text>
<text x="323.2" y="3240.7">#threadLocalProviderFactory : ThreadLocalResteasyProviderFactory</text>
<text x="323.2" y="3254.7">#paramMapping : String</text>
<text x="323.2" y="3272.3">+start() : void</text>
<text x="323.2" y="3286.3">+merge(other : ResteasyDeployment) : void</text>
<text class="u" x="323.2" y="3300.3">+createApplication(applicationClass : String, dispatcher : Dispatcher, providerFactory : ResteasyProviderFactory) : Application</text>
<text class="u" x="323.2" y="3314.3">+createFromInjectorFactory(classname : String, providerFactory : ResteasyProviderFactory) : Object</text>
<text x="323.2" y="3328.3">+registration() : void</text>
<text x="323.2" y="3342.3">#registerJndiComponentResource(resource : String) : void</text>
<text x="323.2" y="3356.3">+stop() : void</text>
<text x="323.2" y="3370.3">#processApplication(config : Application) : boolean</text>
<text x="323.2" y="3384.3">#registerProvider(clazz : String) : void</text>
<text x="323.2" y="3398.3">+isUseContainerFormParams() : boolean</text>
<text x="323.2" y="3412.3">+isDeploymentSensitiveFactoryEnabled() : boolean</text>
<text x="323.2" y="3426.3">+isAsyncJobServiceEnabled() : boolean</text>
<text x="323.2" y="3440.3">+isRegisterBuiltin() : boolean</text>
<text x="323.2" y="3454.3">+isSecurityEnabled() : boolean</text>
<text x="323.2" y="3468.3">+setMediaTypeParamMapping(paramMapping : String) : void</text>
<text x="323.2" y="3482.3">+isWiderRequestMatching() : boolean</text>
<text x="323.2" y="3496.3">+isAddCharset() : boolean</text>
</g>

<g id="Registry">
<rect class="n" x="1267.3" y="2915" width="536" height="358.3"/>
<line class="s" x1="1267.3" y1="2957.3" x2="1803.3" y2="2957.3"/>
<text class="c" x="1535.3" y="2926">&lt;&lt;Interface&gt;&gt;</text>
<text class="b c" x="1535.3" y="2940">Registry</text>
<text class="c" x="1535.3" y="2954">(org::jboss::resteasy::spi)</text>
<text class="i" x="1269.8" y="2970">+addPerRequestResource(clazz : Class&lt;?&gt;) : void</text>
<text class="i" x="1269.8" y="2984">+addPerRequestResource(clazz : Class&lt;?&gt;, basePath : String) : void</text>
<text class="i" x="1269.8" y="2998">+addSingletonResource(singleton : Object) : void</text>
<text class="i" x="1269.8" y="3012">+addSingletonResource(singleton : Object, basePath : String) : void</text>
<text class="i" x="1269.8" y="3026">+addJndiResource(jndiName : String) : void</text>
<text class="i" x="1269.8" y="3040">+addJndiResource(jndiName : String, basePath : String) : void</text>
<text class="i" x="1269.8" y="3054">+addResourceFactory(ref : ResourceFactory) : void</text>
<text class="i" x="1269.8" y="3068">+addResourceFactory(ref : ResourceFactory, basePath : String) : void</text>
<text class="i" x="1269.8" y="3082">+addResourceFactory(ref : ResourceFactory, base : String, clazz : Class&lt;?&gt;) : void</text>
<text class="i" x="1269.8" y="3096">+addResourceFactory(ref : ResourceFactory, base : String, classes : Class&lt;?&gt; []) : void</text>
<text class="i" x="1269.8" y="3110">+removeRegistrations(clazz : Class&lt;?&gt;) : void</text>
<text class="i" x="1269.8" y="3124">+removeRegistrations(clazz : Class&lt;?&gt;, base : String) : void</text>
<text class="i" x="1269.8" y="3138">+getSize() : int</text>
<text class="i" x="1269.8" y="3152">+getResourceInvoker(request : HttpRequest) : ResourceInvoker</text>
<text class="i" x="1269.8" y="3166">+addResourceFactory(rf : ResourceFactory, base : String, resourceClass : ResourceClass) : void</text>
<text class="i" x="1269.8" y="3180">+removeRegistrations(resourceClass : ResourceClass) : void</text>
<text class="i" x="1269.8" y="3194">+addPerRequestResource(clazz : ResourceClass) : void</text>
<text class="i" x="1269.8" y="3208">+addPerRequestResource(clazz : ResourceClass, basePath : String) : void</text>
<text class="i" x="1269.8" y="3222">+addSingletonResource(singleton : Object, resourceClass : ResourceClass) : void</text>
<text class="i" x="1269.8" y="3236">+addSingletonResource(singleton : Object, resourceClass : ResourceClass, basePath : String) : void</text>
<text class="i" x="1269.8" y="3250">+addJndiResource(jndiName : String, resourceClass : ResourceClass) : void</text>
<text class="i" x="1269.8" y="3264">+addJndiResource(jndiName : String, resourceClass : ResourceClass, basePath : String) : void</text>
</g>
</svg>
